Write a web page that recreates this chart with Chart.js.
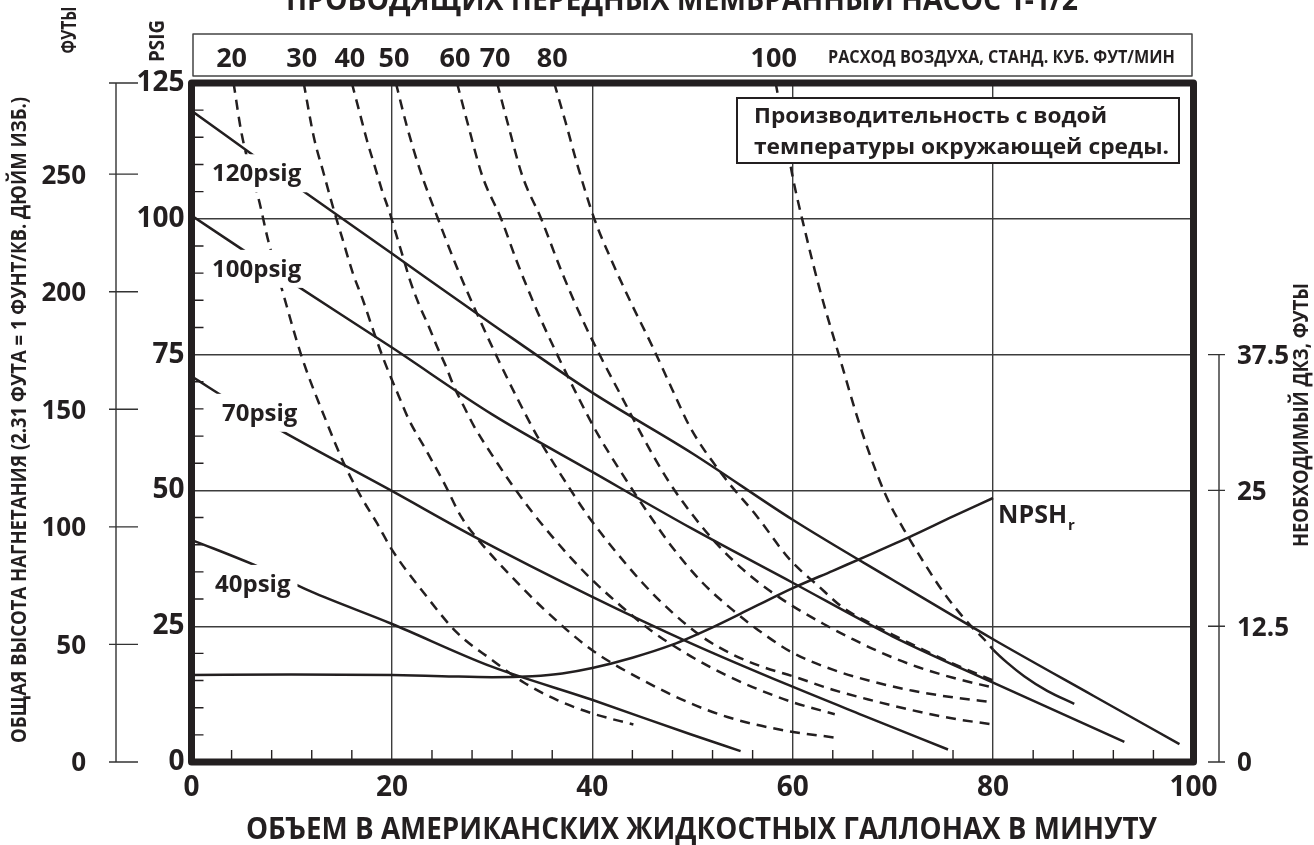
<!DOCTYPE html>
<html>
<head>
<meta charset="utf-8">
<script src="https://cdn.jsdelivr.net/npm/chart.js@4.4.1/dist/chart.umd.min.js"></script>
<style>
  html, body { margin: 0; padding: 0; background: #fff; }
</style>
</head>
<body>
<canvas id="pumpChart" width="1314" height="845"></canvas>
<script>
// оси и подписи
const gpmTicks = [0, 20, 40, 60, 80, 100];
const psiTicks = [0, 25, 50, 75, 100, 125];
const headFtTicks = [0, 50, 100, 150, 200, 250];
const npshTicks = [0, 12.5, 25, 37.5];
const airLabels = ['20', '30', '40', '50', '60', '70', '80', '100'];
const psigLabels = ['120psig', '100psig', '70psig', '40psig'];

// кривые давления [гал/мин, psi]
const psig120 = [[0, 119.9], [10, 106.6], [20, 93.6], [30, 80.6], [40, 68], [50, 56.8], [60, 44.6], [70, 33.5], [80, 22.6], [90, 12.2], [98.6, 3.3]];
const psig100 = [[0, 100.6], [10, 88.3], [20, 76.3], [30, 64], [40, 53.4], [50, 42.9], [60, 33], [70, 23.1], [80, 14.6], [93.1, 3.7]];
const psig70 = [[0, 71], [5, 65.2], [10.6, 59.3], [19.9, 50], [28.2, 41.5], [39.9, 30.5], [49.8, 21.9], [59.8, 14], [67, 8.6], [75.5, 2.3]];
const psig40 = [[0, 40.9], [6.6, 36], [11.9, 31.4], [19.9, 25.5], [29.9, 17.6], [39.9, 11.5], [49.8, 5.1], [54.8, 2.0]];

// расход воздуха, станд. куб. фут/мин
const air20 = [[4.2, 125], [5.0, 115.7], [6.8, 102.9], [7.6, 96.4], [9.0, 87.2], [11.0, 74.6], [13.5, 62.5], [15.2, 55], [16.9, 48.9], [18.5, 44], [20, 39.1], [23.2, 31.1], [26.5, 23.8], [29.9, 18.9], [33.2, 14.6], [36.5, 11.4], [39.9, 9.0], [44.1, 6.9]];
const air30 = [[11.2, 125], [12.2, 115.1], [13.2, 108.3], [14.3, 101], [15.1, 96.1], [16.1, 90], [17.1, 85.1], [18, 80.2], [19.2, 74], [20.7, 67.3], [21.7, 63], [23.2, 58.1], [25.2, 51.4], [26.9, 45.2], [28.9, 40.3], [31.9, 34.2], [35.2, 28.1], [39.9, 20.7], [44.9, 15.2], [49.8, 10.8], [54, 8], [59.5, 5.7], [64.2, 4.5]];
const air40 = [[16.0, 125], [16.8, 119.4], [17.5, 114.5], [18.3, 109.6], [19.0, 105.3], [19.8, 101], [20.3, 97.9], [21.2, 92.4], [21.8, 88.7], [22.8, 83.8], [23.7, 80.1], [24.5, 76.5], [25.4, 72.8], [26.2, 69.1], [27.2, 65.4], [28.2, 61.8], [30, 56.5], [32, 51], [34, 46], [36, 41.5], [38, 37.3], [40, 33.5], [43, 28.5], [46, 24], [49.8, 19.5], [53, 16.3], [56, 13.8], [60, 11], [64.2, 8.8]];
const air50 = [[20.4, 125], [21.5, 117], [22.8, 109], [24.6, 100], [26.5, 91], [28.5, 82.5], [30.5, 74.5], [32.5, 67], [34.5, 60], [37, 52.5], [39.5, 45.5], [42, 39.5], [45, 33], [48, 27.5], [51, 23], [54, 19.8], [57, 17.5], [60, 15.8], [64, 13.3], [68, 11.3], [72, 9.5], [76, 8], [80, 6.9]];
const air60 = [[26.5, 125], [27.5, 118], [29, 108], [30.9, 100], [32.5, 92], [34.5, 83], [36.5, 75], [38.5, 67.5], [40.5, 60.5], [43, 53], [45.5, 46], [48, 39.5], [51, 33], [54, 28], [57, 23.7], [60, 20.1], [64, 17], [68, 14.8], [72, 13.1], [76, 11.9], [80, 11.0]];
const air70 = [[30.5, 125], [31.5, 118], [33, 108], [34.9, 100], [37, 90], [39, 81.5], [41, 74], [43, 67], [45, 60], [47.5, 52], [50, 45.5], [52.5, 40], [55, 35.5], [57.5, 31.8], [60, 28.7], [63, 25.5], [66, 22.6], [69, 20], [72, 17.8], [76, 15.5], [80, 13.7]];
const air80 = [[36.2, 125], [37.3, 118], [38.5, 110], [40.2, 100], [42, 92], [43.9, 84.4], [46, 76.5], [48, 68.5], [49.8, 61.5], [53.1, 52.6], [56.4, 45.3], [59.7, 37.3], [62.5, 32.5], [65.1, 28.3], [67.5, 25.8], [70, 23.4], [73, 20.7], [76, 18.1], [80, 15.0]];
const air100 = [[58.3, 125], [59.2, 116], [60, 107.7], [61.2, 98], [62.7, 87], [64.6, 75], [66.7, 62], [68.5, 52.6], [69.8, 47.1], [71.1, 42.8], [73.1, 36.7], [75.1, 31.1], [77.8, 25], [79.1, 22.6], [80, 20.7], [81.4, 18.3], [83.1, 15.8], [85.4, 13.1], [88.1, 10.7]];

// необходимый ДКЗ, футы
const npshFt = [[0, 8.0], [10, 8.05], [20, 8.0], [25, 7.9], [30, 7.8], [34, 7.9], [37, 8.15], [40, 8.65], [44, 9.6], [48, 10.8], [52, 12.4], [56, 14.2], [60, 16.0], [64, 17.6], [68, 19.2], [72, 20.85], [76, 22.6], [80, 24.3]];

const INK = '#231f20';
const FONT = "'Open Sans', 'DejaVu Sans', sans-serif";
const DASH = [10, 7];

function curve(points, dashed, axis) {
    return {
        data: points.map(p => ({ x: p[0], y: p[1] })),
        yAxisID: axis || 'y',
        borderColor: INK,
        borderWidth: 2.5,
        borderDash: dashed ? DASH : [],
        pointRadius: 0,
        fill: false,
        cubicInterpolationMode: 'monotone'
    };
}

// текст, сжатый по ширине как в оригинале
function fitText(c, text, cx, cy, w, size, rot) {
    c.save();
    c.font = 'bold ' + size + 'px ' + FONT;
    const s = w / c.measureText(text).width;
    c.translate(cx, cy);
    if (rot) c.rotate(-Math.PI / 2);
    c.scale(s, 1);
    c.textAlign = 'center';
    c.textBaseline = 'middle';
    c.fillText(text, 0, 0);
    c.restore();
}

const airCurves = [air20, air30, air40, air50, air60, air70, air80, air100];

const decor = {
    id: 'decor',
    beforeDraw(chart) {
        const c = chart.ctx;
        c.save();
        c.fillStyle = '#fff';
        c.fillRect(0, 0, chart.width, chart.height);
        c.restore();
    },
    afterDraw(chart) {
        const c = chart.ctx;
        const { x, y, yFt, yN } = chart.scales;
        const a = chart.chartArea;
        c.save();
        c.fillStyle = INK;
        c.strokeStyle = INK;

        // подписи кривых давления (с разрывом линии)
        const spots = [[2.05, 108.2], [2.05, 90.6], [3.04, 64.1], [2.35, 32.6]];
        c.font = 'bold 24px ' + FONT;
        c.textBaseline = 'middle';
        c.textAlign = 'left';
        psigLabels.forEach((txt, i) => {
            const px = x.getPixelForValue(spots[i][0]);
            const py = y.getPixelForValue(spots[i][1]);
            const w = c.measureText(txt).width;
            c.fillStyle = '#fff';
            c.fillRect(px - 7, py - 20, w + 14, 38);
            c.fillStyle = INK;
            c.fillText(txt, px, py);
        });

        // NPSHr
        const nx = x.getPixelForValue(80.5);
        const ny = y.getPixelForValue(45.3);
        c.font = 'bold 25px ' + FONT;
        c.fillText('NPSH', nx, ny);
        const nw = c.measureText('NPSH').width;
        c.font = 'bold 15px ' + FONT;
        c.fillText('r', nx + nw + 1, ny + 10);

        // рамка с примечанием
        c.fillStyle = '#fff';
        c.fillRect(737, 98, 442, 65);
        c.lineWidth = 2;
        c.strokeRect(737, 98, 442, 65);
        c.fillStyle = INK;
        fitText(c, 'Производительность с водой', 754 + 353 / 2, 117, 353, 22);
        fitText(c, 'температуры окружающей среды.', 754 + 415 / 2, 148, 415, 22);

        // мелкие деления внутри рамки
        c.lineWidth = 1.4;
        c.beginPath();
        for (let v = 5; v < 125; v += 5) {
            if (v % 25 === 0) continue;
            const py = y.getPixelForValue(v);
            c.moveTo(a.left, py);
            c.lineTo(a.left + 12, py);
        }
        for (let v = 4; v < 100; v += 4) {
            if (v % 20 === 0) continue;
            const px = x.getPixelForValue(v);
            c.moveTo(px, a.bottom);
            c.lineTo(px, a.bottom - 12);
        }
        c.stroke();

        // толстая рамка графика
        c.lineWidth = 7;
        c.lineJoin = 'round';
        c.strokeRect(a.left, a.top, a.right - a.left, a.bottom - a.top);

        // внешняя шкала в футах
        c.lineWidth = 1.4;
        c.strokeStyle = '#333';
        const fx = 116;
        c.beginPath();
        c.moveTo(fx, yFt.getPixelForValue(0));
        c.lineTo(fx, yFt.getPixelForValue(yFt.max));
        headFtTicks.concat([yFt.max]).forEach(v => {
            const py = yFt.getPixelForValue(v);
            c.moveTo(109, py);
            c.lineTo(138, py);
        });
        c.stroke();
        c.font = 'bold 26px ' + FONT;
        c.textAlign = 'right';
        headFtTicks.forEach(v => c.fillText(String(v), 86, yFt.getPixelForValue(v) + 2));

        // правая шкала ДКЗ
        const rx = 1219;
        c.beginPath();
        c.moveTo(rx, yN.getPixelForValue(0));
        c.lineTo(rx, yN.getPixelForValue(npshTicks[npshTicks.length - 1]));
        npshTicks.forEach(v => {
            const py = yN.getPixelForValue(v);
            c.moveTo(1208, py);
            c.lineTo(1225, py);
        });
        c.stroke();
        c.textAlign = 'left';
        npshTicks.forEach(v => c.fillText(String(v), 1237, yN.getPixelForValue(v) + 2));

        // верхняя шкала расхода воздуха
        c.lineWidth = 1.5;
        c.strokeStyle = '#444';
        c.strokeRect(a.left + 1.5, 34, a.right - a.left - 3, 42);
        c.font = 'bold 27px ' + FONT;
        c.textAlign = 'center';
        airLabels.forEach((t, i) => {
            c.fillText(t, x.getPixelForValue(airCurves[i][0][0]) - 2, 59);
        });
        fitText(c, 'РАСХОД ВОЗДУХА, СТАНД. КУБ. ФУТ/МИН', 828 + 347 / 2, 58, 347, 18);

        // заголовки
        fitText(c, 'ОБЪЕМ В АМЕРИКАНСКИХ ЖИДКОСТНЫХ ГАЛЛОНАХ В МИНУТУ', 701.5, 830, 911, 31);
        fitText(c, 'ОБЩАЯ ВЫСОТА НАГНЕТАНИЯ (2.31 ФУТА = 1 ФУНТ/КВ. ДЮЙМ ИЗБ.)', 20, 420, 646, 21, true);
        fitText(c, 'ФУТЫ', 70, 30, 47, 21, true);
        fitText(c, 'PSIG', 158, 41, 42, 21, true);
        fitText(c, 'НЕОБХОДИМЫЙ ДКЗ, ФУТЫ', 1302, 415, 264, 21, true);

        // верхний заголовок (обрезан краем)
        c.save();
        c.font = 'bold 30px ' + FONT;
        const tt = 'ПРОВОДЯЩИХ ПЕРЕДНЫХ МЕМБРАННЫЙ НАСОС 1-1/2';
        const ts = 792 / c.measureText(tt).width;
        c.translate(682, 10);
        c.scale(ts, 1);
        c.textAlign = 'center';
        c.textBaseline = 'alphabetic';
        c.fillText(tt, 0, 0);
        c.restore();

        c.restore();
    }
};

document.addEventListener('DOMContentLoaded', function() {
    const ctx = document.getElementById('pumpChart').getContext('2d');

    const air100Set = curve(air100, true);
    air100Set.segment = { borderDash: s => (s.p0.parsed.x >= 80 ? [] : DASH) };

    new Chart(ctx, {
        type: 'line',
        data: {
            datasets: [
                curve(psig120, false),
                curve(psig100, false),
                curve(psig70, false),
                curve(psig40, false),
                curve(air20, true),
                curve(air30, true),
                curve(air40, true),
                curve(air50, true),
                curve(air60, true),
                curve(air70, true),
                curve(air80, true),
                air100Set,
                curve(npshFt, false, 'yN')
            ]
        },
        options: {
            responsive: false,
            animation: false,
            layout: { padding: { left: 0, right: 120.5, top: 83, bottom: 0 } },
            plugins: {
                legend: { display: false },
                tooltip: { enabled: false }
            },
            scales: {
                x: {
                    type: 'linear',
                    min: 0,
                    max: 100,
                    afterBuildTicks: s => { s.ticks = gpmTicks.map(v => ({ value: v })); },
                    afterFit: s => { s.height = 83; },
                    grid: { color: '#3c3c3c', lineWidth: 1.4, drawTicks: false },
                    border: { display: false },
                    ticks: {
                        padding: 9,
                        color: INK,
                        maxRotation: 0,
                        autoSkip: false,
                        font: { family: FONT, weight: 'bold', size: 28 }
                    }
                },
                y: {
                    type: 'linear',
                    position: 'left',
                    min: 0,
                    max: 125,
                    afterBuildTicks: s => { s.ticks = psiTicks.map(v => ({ value: v })); },
                    afterFit: s => { s.width = 191.5; },
                    grid: { color: '#3c3c3c', lineWidth: 1.4, drawTicks: false },
                    border: { display: false },
                    ticks: {
                        padding: 7,
                        color: INK,
                        font: { family: FONT, weight: 'bold', size: 28 }
                    }
                },
                yFt: { type: 'linear', display: false, min: 0, max: 125 * 2.31 },
                yN: { type: 'linear', display: false, min: 0, max: 62.5 }
            }
        },
        plugins: [decor]
    });
});
</script>
</body>
</html>
